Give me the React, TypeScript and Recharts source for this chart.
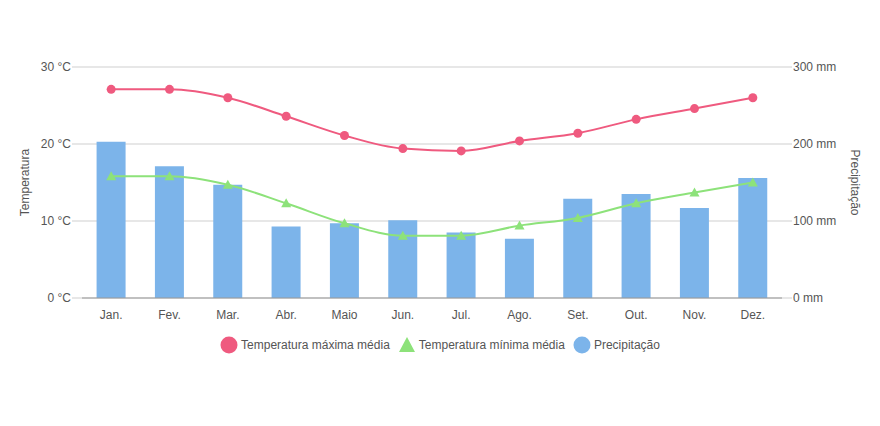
import React from "react";
import {
  ComposedChart,
  Bar,
  Line,
  XAxis,
  YAxis,
  CartesianGrid,
  Legend,
} from "recharts";

const months = ["Jan.", "Fev.", "Mar.", "Abr.", "Maio", "Jun.", "Jul.", "Ago.", "Set.", "Out.", "Nov.", "Dez."];
const tempMax = [27.1, 27.1, 26.0, 23.6, 21.1, 19.4, 19.1, 20.4, 21.4, 23.2, 24.6, 26.0];
const tempMin = [15.8, 15.8, 14.7, 12.3, 9.7, 8.1, 8.1, 9.4, 10.4, 12.3, 13.7, 15.0];
const precip = [203, 171, 147, 93, 97, 101, 85, 77, 129, 135, 117, 156];

const tempTicks = [0, 10, 20, 30];
const precipTicks = [0, 100, 200, 300];

const RED = "#EF5A7F";
const GREEN = "#8DE27A";
const BLUE = "#7CB4EA";
const TEXT = "#555";
const FONT = "'Liberation Sans', Arial, sans-serif";

const data = months.map((m, i) => ({
  month: m,
  max: tempMax[i],
  min: tempMin[i],
  rain: precip[i],
}));

const Triangle = (props: any) => {
  const { cx, cy } = props;
  if (cx == null || cy == null) return null;
  return <path d={`M${cx},${cy - 5}L${cx + 5},${cy + 4}L${cx - 5},${cy + 4}Z`} fill={GREEN} />;
};

const LegendBox = () => (
  <div style={{ display: "flex", justifyContent: "center", alignItems: "center", fontSize: 12, color: TEXT, fontFamily: FONT, height: 24 }}>
    <svg width={18} height={18} style={{ marginRight: 3 }}>
      <circle cx={9} cy={9} r={8.5} fill={RED} />
    </svg>
    <span style={{ marginRight: 8 }}>Temperatura máxima média</span>
    <svg width={18} height={18} style={{ marginRight: 3 }}>
      <path d="M9,1L17,16L1,16Z" fill={GREEN} />
    </svg>
    <span style={{ marginRight: 8 }}>Temperatura mínima média</span>
    <svg width={18} height={18} style={{ marginRight: 3 }}>
      <circle cx={9} cy={9} r={8.5} fill={BLUE} />
    </svg>
    <span>Precipitação</span>
  </div>
);

export default function App() {
  return (
    <div style={{ position: "absolute", left: 0, top: 0, background: "#fff" }}>
      <ComposedChart
        width={880}
        height={426}
        data={data}
        margin={{ top: 67, right: 0, left: 0, bottom: 69 }}
        barCategoryGap="25%"
      >
        <CartesianGrid horizontal vertical={false} stroke="#cfcfcf" yAxisId="t" />
        <XAxis
          dataKey="month"
          height={35}
          tickLine={false}
          axisLine={{ stroke: "#999" }}
          tickMargin={6}
          tick={{ fontSize: 12, fill: TEXT, fontFamily: FONT }}
        />
        <YAxis
          yAxisId="t"
          orientation="left"
          width={82}
          domain={[0, 30]}
          ticks={tempTicks}
          tickFormatter={(v) => `${v} °C`}
          axisLine={false}
          tickSize={10}
          tickLine={{ stroke: "#cfcfcf" }}
          tickMargin={1}
          tick={{ fontSize: 12, fill: TEXT, fontFamily: FONT }}
          label={{ value: "Temperatura", angle: -90, position: "insideLeft", offset: 25, style: { textAnchor: "middle", fontSize: 12, fill: TEXT, fontFamily: FONT } }}
        />
        <YAxis
          yAxisId="p"
          orientation="right"
          width={98}
          domain={[0, 300]}
          ticks={precipTicks}
          tickFormatter={(v) => `${v} mm`}
          axisLine={false}
          tickSize={10}
          tickLine={{ stroke: "#cfcfcf" }}
          tickMargin={1}
          tick={{ fontSize: 12, fill: TEXT, fontFamily: FONT }}
          label={{ value: "Precipitação", angle: 90, position: "insideRight", offset: 25, style: { textAnchor: "middle", fontSize: 12, fill: TEXT, fontFamily: FONT } }}
        />
        <Legend verticalAlign="bottom" content={<LegendBox />} />
        <Bar yAxisId="p" dataKey="rain" fill={BLUE} isAnimationActive={false} />
        <Line
          yAxisId="t"
          type="monotone"
          dataKey="max"
          stroke={RED}
          strokeWidth={2}
          dot={{ r: 4.5, fill: RED, stroke: RED, strokeWidth: 0 }}
          isAnimationActive={false}
        />
        <Line
          yAxisId="t"
          type="monotone"
          dataKey="min"
          stroke={GREEN}
          strokeWidth={2}
          dot={<Triangle />}
          isAnimationActive={false}
        />
      </ComposedChart>
    </div>
  );
}
